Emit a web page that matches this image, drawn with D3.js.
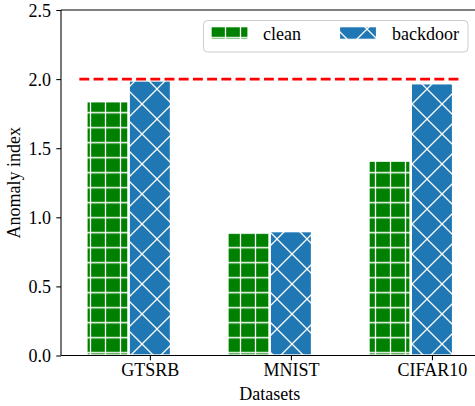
<!DOCTYPE html>
<html>
<head>
<meta charset="utf-8">
<script src="https://cdn.jsdelivr.net/npm/d3@7"></script>
<style>
  html, body { margin: 0; padding: 0; background: #fff; }
  svg { display: block; }
  text { font-family: "Liberation Serif", "Times New Roman", serif; fill: #000; }
</style>
</head>
<body>
<svg id="chart" width="475" height="406"></svg>
<script>
// ---- data ----
const categories = ["GTSRB", "MNIST", "CIFAR10"];
const cleanValues = [1.84, 0.89, 1.41];
const backdoorValues = [1.99, 0.90, 1.97];
const seriesNames = ["clean", "backdoor"];
const yTicks = [0.0, 0.5, 1.0, 1.5, 2.0, 2.5];
const thresholdValue = 2.0;
const yLabel = "Anomaly index";
const xLabel = "Datasets";

// ---- layout ----
const FS = 18;
const svg = d3.select("#chart");
const x = d3.scaleLinear().domain([-0.63, 2.33]).range([61, 478.5]);
const y = d3.scaleLinear().domain([0, 2.5]).range([355.5, 10]);
const barW = 0.3;
const colors = { clean: "#008000", backdoor: "#1f77b4" };

// ---- hatch patterns ----
const defs = svg.append("defs");
const plus = defs.append("pattern")
  .attr("id", "hatch-plus").attr("patternUnits", "userSpaceOnUse")
  .attr("x", -7).attr("y", 0.2).attr("width", 15).attr("height", 15);
plus.append("rect").attr("width", 15).attr("height", 15).attr("fill", colors.clean);
plus.append("path").attr("d", "M7.5,-1V16M-1,7.5H16")
  .attr("stroke", "#fff").attr("stroke-width", 1.3).attr("fill", "none");

const cross = defs.append("pattern")
  .attr("id", "hatch-x").attr("patternUnits", "userSpaceOnUse")
  .attr("x", 7).attr("y", -1).attr("width", 30).attr("height", 30);
cross.append("rect").attr("width", 30).attr("height", 30).attr("fill", colors.backdoor);
cross.append("path")
  .attr("d", "M-30,0L30,60M-5,-5L35,35M0,-30L60,30M-30,30L30,-30M-5,35L35,-5M0,60L60,0")
  .attr("stroke", "#fff").attr("stroke-width", 1.3).attr("fill", "none");

const fills = { clean: "url(#hatch-plus)", backdoor: "url(#hatch-x)" };

// ---- bars ----
const rows = categories.map((c, i) => ({ i, c, clean: cleanValues[i], backdoor: backdoorValues[i] }));
const offsets = { clean: -barW, backdoor: 0 };
seriesNames.forEach(s => {
  svg.append("g").selectAll("rect").data(rows).join("rect")
    .attr("x", d => x(d.i + offsets[s] - barW / 2))
    .attr("width", d => x(d.i + offsets[s] + barW / 2) - x(d.i + offsets[s] - barW / 2))
    .attr("y", d => y(d[s]))
    .attr("height", d => y(0) - y(d[s]))
    .attr("fill", fills[s])
    .attr("stroke", "#fff")
    .attr("stroke-width", 2.4);
});

// ---- threshold line ----
svg.append("line")
  .attr("x1", x(-0.5)).attr("x2", x(2.2))
  .attr("y1", y(thresholdValue)).attr("y2", y(thresholdValue))
  .attr("stroke", "red").attr("stroke-width", 2.7)
  .attr("stroke-dasharray", "9.9,4.3");

// ---- axes ----
const yAxis = d3.axisLeft(y).tickValues(yTicks).tickFormat(d3.format(".1f")).tickSize(4.7).tickPadding(5.3);
const gy = svg.append("g").attr("transform", `translate(${x.range()[0]},0)`).call(yAxis);
gy.attr("font-size", null).attr("font-family", null);
gy.select(".domain").remove();
gy.selectAll("line").attr("stroke", "#000").attr("stroke-width", 1.07);
gy.selectAll("text").attr("font-size", FS).attr("dy", "0.34em");

const xAxis = d3.axisBottom(x).tickValues(categories.map((c, i) => i))
  .tickFormat(i => categories[i]).tickSize(4.7).tickPadding(3.5);
const gx = svg.append("g").attr("transform", `translate(0,${y(0)})`).call(xAxis);
gx.attr("font-size", null).attr("font-family", null);
gx.select(".domain").remove();
gx.selectAll("line").attr("stroke", "#000").attr("stroke-width", 1.07);
gx.selectAll("text").attr("font-size", FS).attr("dy", "0.71em");

// spines
const spine = svg.append("g").attr("stroke", "#000").attr("stroke-width", 1.07);
spine.append("line").attr("x1", x.range()[0]).attr("x2", x.range()[0]).attr("y1", y(0)).attr("y2", y(2.5));
spine.append("line").attr("x1", x.range()[0]).attr("x2", x.range()[1]).attr("y1", y(0)).attr("y2", y(0));
spine.append("line").attr("x1", x.range()[0]).attr("x2", x.range()[1]).attr("y1", y(2.5)).attr("y2", y(2.5));

// axis labels
svg.append("text")
  .attr("transform", `translate(20.3,${(y(0) + y(2.5)) / 2}) rotate(-90)`)
  .attr("text-anchor", "middle").attr("font-size", FS).text(yLabel);
svg.append("text")
  .attr("x", (x.range()[0] + x.range()[1]) / 2).attr("y", 400)
  .attr("text-anchor", "middle").attr("font-size", FS).text(xLabel);

// ---- legend ----
const lg = svg.append("g");
lg.append("rect").attr("x", 203.5).attr("y", 20.5).attr("width", 264.5).attr("height", 31.5)
  .attr("rx", 4).attr("fill", "#fff").attr("fill-opacity", 0.8)
  .attr("stroke", "#cccccc").attr("stroke-width", 1);
const legendItems = [
  { name: seriesNames[0], px: 211, tx: 263 },
  { name: seriesNames[1], px: 339.5, tx: 392 }
];
legendItems.forEach(it => {
  lg.append("rect").attr("x", it.px).attr("y", 26.7).attr("width", 37).attr("height", 12.6)
    .attr("fill", fills[it.name]).attr("stroke", "#fff").attr("stroke-width", 1.2);
  lg.append("text").attr("x", it.tx).attr("y", 40).attr("font-size", FS).text(it.name);
});
</script>
</body>
</html>
